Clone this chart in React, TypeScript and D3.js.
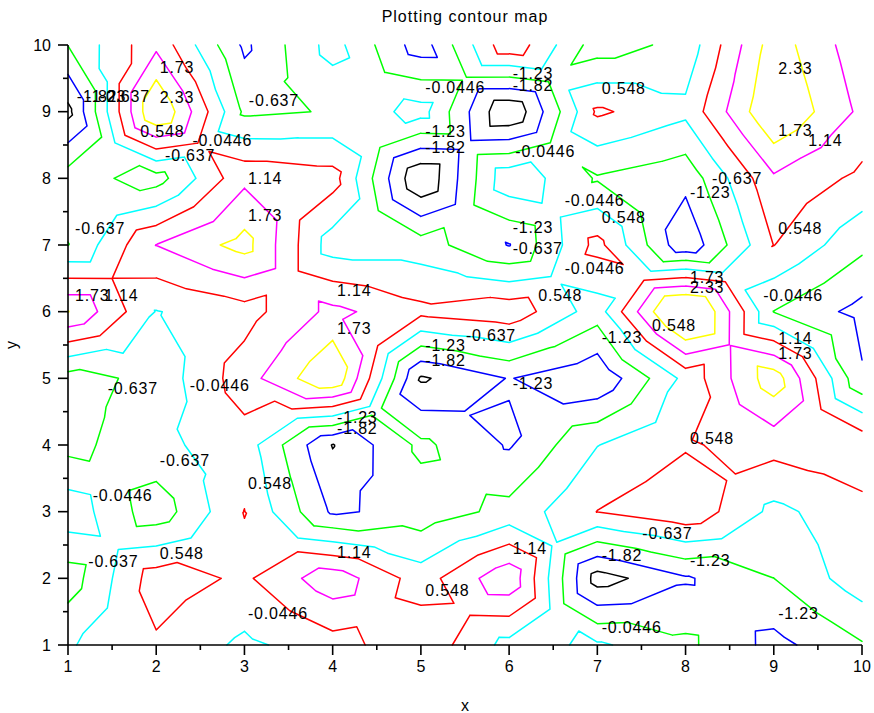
import React, { useMemo } from "react";
import * as d3 from "d3";

// Grid coordinates
const xValues = [1, 2, 3, 4, 5, 6, 7, 8, 9, 10];
const yValues = [1, 2, 3, 4, 5, 6, 7, 8, 9, 10];

// Surface heights, one array per grid row (x = 1..10)
const zRowY1 = [-0.1, 0.46, -0.17, 0.29, 0.99, -0.25, 0.05, -0.5, -1.42, -0.69];
const zRowY2 = [-0.95, 0.85, 0.44, 1.52, 0.25, 1.6, -2.1, -1.3, -0.64, 0.3];
const zRowY3 = [0.35, -1.0, 0.56, -1.33, -1.0, -0.45, 0.56, 1.0, -0.2, 0.35];
const zRowY4 = [-0.84, -0.2, 0.28, -1.85, -0.5, -1.29, -0.06, 0.49, 0.77, 1.0];
const zRowY5 = [-0.9, -0.44, 0.87, 2.3, -1.9, -1.2, -1.75, 0.13, 2.09, -1.15];
const zRowY6 = [1.75, -0.07, 0.3, 1.3, 0.71, 0.95, -0.35, 2.92, -0.65, -1.44];
const zRowY7 = [-0.65, 1.15, 1.95, -0.35, -0.35, -1.26, 0.75, -1.7, 0.56, -0.49];
const zRowY8 = [-0.35, -0.9, 1.0, 0.8, -2.4, 0.41, -0.7, -1.05, 1.05, 0.4];
const zRowY9 = [-2.0, 2.4, -0.75, -0.6, 0.2, -2.41, 0.65, 0.1, 2.35, 1.0];
const zRowY10 = [-0.62, 1.0, -1.35, 0.2, -1.55, 1.0, -0.95, -0.45, 2.05, 0.75];

// Contour levels and their pen colours
const levels = [-1.82, -1.23, -0.637, -0.0446, 0.548, 1.14, 1.73, 2.33];
const levelColors = ["#000000", "#0000ff", "#00ff00", "#00ffff", "#ff0000", "#ff00ff", "#ffff00", "#ffffff"];

// Level annotations: [x, y, level index]
const levelLabels: [number, number, number][] = [
  [2.04, 9.67, 6], [1.1, 9.23, 0], [1.2, 9.23, 1], [1.36, 9.23, 2], [2.04, 9.22, 7],
  [3.05, 9.17, 2], [1.82, 8.71, 4], [2.41, 8.57, 3], [2.1, 8.35, 2], [3.04, 8.0, 5],
  [3.04, 7.45, 6], [1.08, 7.25, 2], [1.08, 6.25, 6], [1.41, 6.25, 5], [1.45, 4.85, 2],
  [2.38, 4.9, 3], [2.04, 3.77, 2], [1.28, 3.25, 3], [3.04, 3.43, 4], [2.04, 2.38, 4],
  [1.23, 2.25, 2], [3.04, 1.48, 3], [4.05, 2.39, 5], [5.05, 1.82, 4], [6.04, 2.45, 5],
  [7.05, 2.35, 0], [7.51, 2.68, 2], [8.05, 2.27, 1], [9.05, 1.48, 1], [7.05, 1.27, 3],
  [8.05, 4.1, 4], [9.05, 5.6, 5], [9.05, 5.38, 6], [7.62, 5.8, 4], [8.05, 6.52, 6],
  [8.05, 6.36, 7], [8.88, 6.25, 3], [7.05, 5.62, 1], [6.63, 6.65, 3], [6.33, 6.25, 4],
  [6.04, 6.95, 2], [4.05, 6.32, 5], [4.05, 5.75, 6], [5.51, 5.65, 2], [5.05, 5.5, 1],
  [5.05, 5.27, 0], [6.04, 4.93, 1], [4.05, 4.42, 1], [4.05, 4.25, 0], [5.05, 9.37, 3],
  [6.04, 9.58, 1], [6.04, 9.4, 0], [5.05, 8.7, 1], [5.05, 8.46, 0], [6.07, 8.4, 3],
  [6.63, 7.67, 3], [6.04, 7.27, 1], [7.05, 9.35, 4], [9.05, 9.65, 7], [9.05, 8.72, 6],
  [9.39, 8.57, 5], [8.3, 8.0, 2], [8.05, 7.79, 1], [7.05, 7.42, 4], [9.05, 7.25, 4],
];

const tickValues = [1, 2, 3, 4, 5, 6, 7, 8, 9, 10];

const WIDTH = 874;
const HEIGHT = 713;
const margin = { left: 68, right: 12, top: 45, bottom: 68 };
const FONT = "'Liberation Sans', Arial, Helvetica, sans-serif";

type Pt = [number, number];
type Node3 = [number, number, number];

// Contour each grid cell by splitting it into four triangles around its centre.
function triangleContours(grid: number[][], level: number): [Pt, Pt][] {
  const segs: [Pt, Pt][] = [];
  const nx = xValues.length;
  const ny = yValues.length;
  const cross = (a: Node3, b: Node3): Pt => {
    const t = (level - a[2]) / (b[2] - a[2]);
    return [a[0] + t * (b[0] - a[0]), a[1] + t * (b[1] - a[1])];
  };
  for (let j = 0; j < ny - 1; j++) {
    for (let i = 0; i < nx - 1; i++) {
      const p00: Node3 = [xValues[i], yValues[j], grid[j][i]];
      const p10: Node3 = [xValues[i + 1], yValues[j], grid[j][i + 1]];
      const p11: Node3 = [xValues[i + 1], yValues[j + 1], grid[j + 1][i + 1]];
      const p01: Node3 = [xValues[i], yValues[j + 1], grid[j + 1][i]];
      const c: Node3 = [
        (p00[0] + p10[0]) / 2,
        (p00[1] + p01[1]) / 2,
        (p00[2] + p10[2] + p11[2] + p01[2]) / 4,
      ];
      const tris: Node3[][] = [
        [p00, p10, c],
        [p10, p11, c],
        [p11, p01, c],
        [p01, p00, c],
      ];
      for (const tri of tris) {
        const pts: Pt[] = [];
        for (let k = 0; k < 3; k++) {
          const a = tri[k];
          const b = tri[(k + 1) % 3];
          if (a[2] >= level !== b[2] >= level) pts.push(cross(a, b));
        }
        if (pts.length === 2) segs.push([pts[0], pts[1]]);
      }
    }
  }
  return segs;
}

export default function App() {
  const grid = [zRowY1, zRowY2, zRowY3, zRowY4, zRowY5, zRowY6, zRowY7, zRowY8, zRowY9, zRowY10];

  const x = d3.scaleLinear().domain([1, 10]).range([margin.left, WIDTH - margin.right]);
  const y = d3.scaleLinear().domain([1, 10]).range([HEIGHT - margin.bottom, margin.top]);

  const paths = useMemo(() => {
    const line = d3.line<Pt>().x((d) => x(d[0])).y((d) => y(d[1]));
    return levels.map((lv, k) => {
      const segs = triangleContours(grid, lv);
      const d = segs.map((s) => line(s)).join("");
      return { d, color: levelColors[k] };
    });
  }, []);

  const minorTicks = d3.range(1.5, 10, 1);

  return (
    <svg width={WIDTH} height={HEIGHT} style={{ display: "block", position: "absolute", left: 0, top: 0 }}>
      <rect width={WIDTH} height={HEIGHT} fill="#ffffff" />
      <text x={465} y={22} textAnchor="middle" fontFamily={FONT} fontSize={16} letterSpacing={1} fill="#000">
        Plotting contour map
      </text>

      {paths.map((p, k) => (
        <path key={k} d={p.d} fill="none" stroke={p.color} strokeWidth={1.5} strokeLinecap="round" strokeLinejoin="round" />
      ))}

      {levelLabels.map(([lx, ly, li], k) => (
        <text
          key={k}
          x={x(lx)}
          y={y(ly)}
          dy="0.36em"
          fontFamily={FONT}
          fontSize={16}
          letterSpacing={0.8}
          fill="#000"
        >
          {String(levels[li])}
        </text>
      ))}

      {/* axes */}
      <g stroke="#000" strokeWidth={1.6}>
        <line x1={x(1)} x2={x(10)} y1={y(1)} y2={y(1)} />
        <line x1={x(1)} x2={x(1)} y1={y(1)} y2={y(10)} />
        {tickValues.map((t) => (
          <line key={"xt" + t} x1={x(t)} x2={x(t)} y1={y(1)} y2={y(1) + 10} />
        ))}
        {minorTicks.map((t) => (
          <line key={"xm" + t} x1={x(t)} x2={x(t)} y1={y(1)} y2={y(1) + 5} />
        ))}
        {tickValues.map((t) => (
          <line key={"yt" + t} x1={x(1) - 10} x2={x(1)} y1={y(t)} y2={y(t)} />
        ))}
        {minorTicks.map((t) => (
          <line key={"ym" + t} x1={x(1) - 5} x2={x(1)} y1={y(t)} y2={y(t)} />
        ))}
      </g>
      {tickValues.map((t) => (
        <text key={"xl" + t} x={x(t)} y={y(1) + 27} textAnchor="middle" fontFamily={FONT} fontSize={16} fill="#000">
          {t}
        </text>
      ))}
      {tickValues.map((t) => (
        <text key={"yl" + t} x={x(1) - 17} y={y(t)} dy="0.36em" textAnchor="end" fontFamily={FONT} fontSize={16} fill="#000">
          {t}
        </text>
      ))}
      <text x={x(5.5)} y={711} textAnchor="middle" fontFamily={FONT} fontSize={16} fill="#000">
        x
      </text>
      <text
        transform={`translate(17, ${y(5.5)}) rotate(-90)`}
        textAnchor="middle"
        fontFamily={FONT}
        fontSize={16}
        fill="#000"
      >
        y
      </text>
    </svg>
  );
}
